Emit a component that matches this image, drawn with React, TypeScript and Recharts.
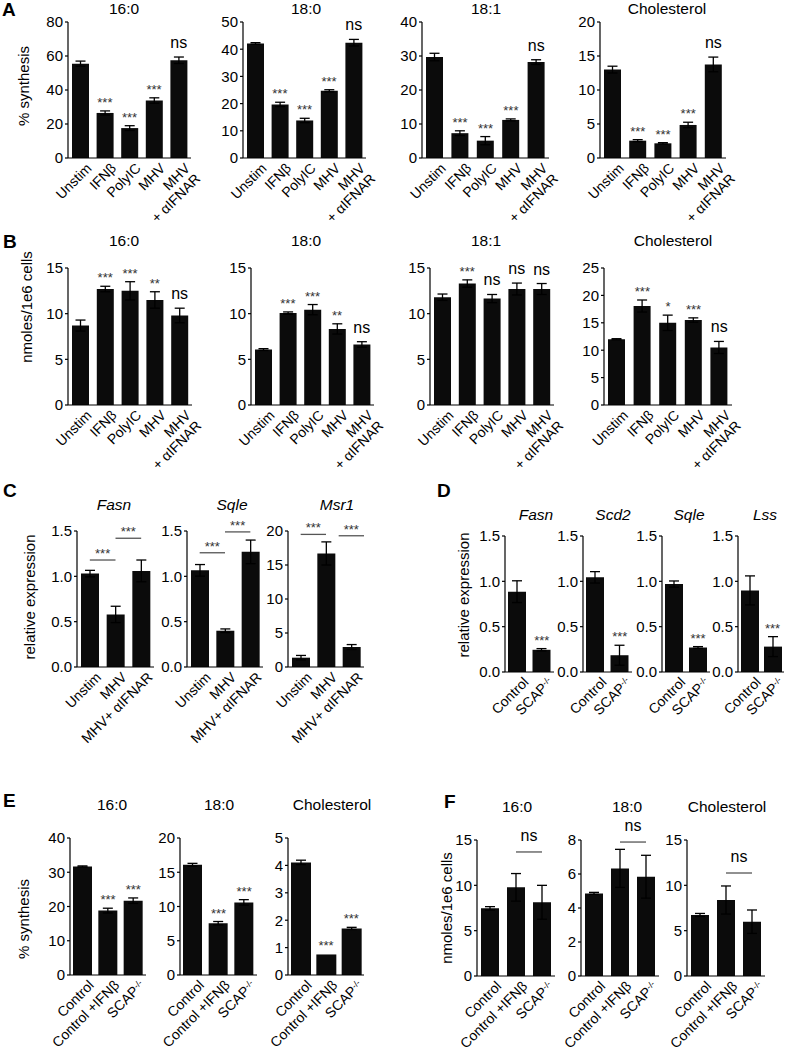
import React from 'react';
import { BarChart, Bar, XAxis, YAxis, ErrorBar, ReferenceDot, ReferenceLine } from 'recharts';

const FONT = '"Liberation Sans", Arial, Helvetica, sans-serif';

// ---------- categories ----------
const CATS_AB = ['Unstim', 'IFNβ', 'PolyIC', 'MHV', 'MHV\n+ αIFNAR'];
const CATS_C = ['Unstim', 'MHV', 'MHV+ αIFNAR'];
const CATS_D = ['Control', 'SCAP-/-'];
const CATS_EF = ['Control', 'Control +IFNβ', 'SCAP-/-'];

// ---------- titles ----------
const TITLES_A = ['16:0', '18:0', '18:1', 'Cholesterol'];
const TITLES_C = ['Fasn', 'Sqle', 'Msr1'];
const TITLES_D = ['Fasn', 'Scd2', 'Sqle', 'Lss'];
const TITLES_E = ['16:0', '18:0', 'Cholesterol'];

// ---------- panel A: % synthesis ----------
const A_160_VALS = [55.5, 26.5, 17.6, 33.8, 57.5];
const A_160_ERRS = [1.5, 1.2, 1.4, 1.6, 1.9];
const A_180_VALS = [42.1, 19.7, 13.8, 24.7, 42.4];
const A_180_ERRS = [0.3, 0.8, 0.8, 0.4, 1.2];
const A_181_VALS = [29.7, 7.3, 5.1, 11.2, 28.2];
const A_181_ERRS = [1.1, 0.7, 1.2, 0.3, 0.7];
const A_CHOL_VALS = [13.0, 2.55, 2.16, 4.86, 13.76];
const A_CHOL_ERRS = [0.5, 0.15, 0.1, 0.4, 1.08];
const SIG_A = ['', '***', '***', '***', 'ns'];

// ---------- panel B: nmoles/1e6 cells ----------
const B_160_VALS = [8.7, 12.7, 12.5, 11.5, 9.8];
const B_160_ERRS = [0.6, 0.3, 1.0, 0.9, 0.8];
const B_180_VALS = [6.07, 10.07, 10.44, 8.33, 6.63];
const B_180_ERRS = [0.1, 0.12, 0.56, 0.56, 0.3];
const B_181_VALS = [11.8, 13.3, 11.65, 12.7, 12.7];
const B_181_ERRS = [0.35, 0.4, 0.45, 0.65, 0.6];
const B_CHOL_VALS = [12.0, 18.06, 15.0, 15.5, 10.5];
const B_CHOL_ERRS = [0.1, 1.1, 1.4, 0.4, 1.1];
const SIG_B12 = ['', '***', '***', '**', 'ns'];
const SIG_B3 = ['', '***', 'ns', 'ns', 'ns'];
const SIG_B4 = ['', '***', '*', '***', 'ns'];

// ---------- panel C: relative expression ----------
const C_FASN_VALS = [1.03, 0.58, 1.06];
const C_FASN_ERRS = [0.036, 0.09, 0.12];
const C_SQLE_VALS = [1.066, 0.4, 1.27];
const C_SQLE_ERRS = [0.064, 0.02, 0.13];
const C_MSR1_VALS = [1.37, 16.7, 2.94];
const C_MSR1_ERRS = [0.33, 1.7, 0.36];
const C_FASN_BRACKETS = [
  { from: 'Unstim', to: 'MHV', y: 1.18, text: '***' },
  { from: 'MHV', to: 'MHV+ αIFNAR', y: 1.42, text: '***' },
];
const C_SQLE_BRACKETS = [
  { from: 'Unstim', to: 'MHV', y: 1.26, text: '***' },
  { from: 'MHV', to: 'MHV+ αIFNAR', y: 1.49, text: '***' },
];
const C_MSR1_BRACKETS = [
  { from: 'Unstim', to: 'MHV', y: 19.5, text: '***' },
  { from: 'MHV', to: 'MHV+ αIFNAR', y: 19.3, text: '***' },
];

// ---------- panel D: relative expression ----------
const D_FASN_VALS = [0.886, 0.245];
const D_FASN_ERRS = [0.12, 0.013];
const D_SCD2_VALS = [1.044, 0.185];
const D_SCD2_ERRS = [0.063, 0.11];
const D_SQLE_VALS = [0.97, 0.27];
const D_SQLE_ERRS = [0.034, 0.01];
const D_LSS_VALS = [0.9, 0.28];
const D_LSS_ERRS = [0.16, 0.11];
const SIG_D = ['', '***'];

// ---------- panel E: % synthesis ----------
const E_160_VALS = [31.7, 18.8, 21.7];
const E_160_ERRS = [0.15, 0.7, 0.8];
const E_180_VALS = [16.1, 7.56, 10.6];
const E_180_ERRS = [0.2, 0.25, 0.4];
const E_CHOL_VALS = [4.11, 0.75, 1.7];
const E_CHOL_ERRS = [0.08, 0.0, 0.04];
const SIG_E = ['', '***', '***'];

// ---------- panel F: nmoles/1e6 cells ----------
const F_160_VALS = [7.46, 9.78, 8.13];
const F_160_ERRS = [0.19, 1.52, 1.87];
const F_180_VALS = [4.86, 6.33, 5.84];
const F_180_ERRS = [0.06, 1.12, 1.26];
const F_CHOL_VALS = [6.73, 8.38, 5.99];
const F_CHOL_ERRS = [0.17, 1.55, 1.29];
const F_160_BRACKETS = [{ from: 'Control +IFNβ', to: 'SCAP-/-', y: 13.68, text: 'ns' }];
const F_180_BRACKETS = [{ from: 'Control +IFNβ', to: 'SCAP-/-', y: 7.88, text: 'ns' }];
const F_CHOL_BRACKETS = [{ from: 'Control +IFNβ', to: 'SCAP-/-', y: 11.36, text: 'ns' }];

// ---------- tick sets ----------
const TICKS_80 = [0, 20, 40, 60, 80];
const TICKS_50 = [0, 10, 20, 30, 40, 50];
const TICKS_40 = [0, 10, 20, 30, 40];
const TICKS_20_5 = [0, 5, 10, 15, 20];
const TICKS_15 = [0, 5, 10, 15];
const TICKS_25 = [0, 5, 10, 15, 20, 25];
const TICKS_1_5 = [0, 0.5, 1.0, 1.5];
const TICKS_5 = [0, 1, 2, 3, 4, 5];
const TICKS_8 = [0, 2, 4, 6, 8];

type Bracket = { from: string; to: string; y: number; text: string };

const YW = 44;
const MT = 34;
const MR = 14;
const XH = 110;

function supParts(s: string) {
  if (s.endsWith('-/-')) {
    return [
      <tspan key="a">{s.slice(0, -3)}</tspan>,
      <tspan key="b" dy="-0.45em" fontSize="0.62em">-/-</tspan>,
    ];
  }
  return s;
}

const XTick = (props: any) => {
  const { x, y, payload, fs } = props;
  const lines = String(payload.value).split('\n');
  return (
    <g transform={`translate(${x + 5},${y + 4})`}>
      <text transform="rotate(-45)" textAnchor="end" fontSize={fs} fontFamily={FONT} fill="#000">
        {lines.map((ln, i) => (
          <tspan key={i} x={0} dy={i === 0 ? '0.72em' : '1.05em'}>
            {supParts(ln)}
          </tspan>
        ))}
      </text>
    </g>
  );
};

const SigText = (props: any) => {
  const vb = props.viewBox || { x: 0, y: 0, width: 0, height: 0 };
  const cx = vb.x + (vb.width || 0) / 2;
  const cy = vb.y + (vb.height || 0) / 2;
  const t: string = props.text;
  const star = t.includes('*');
  const off = props.off !== undefined ? props.off : star ? 4 : 9;
  return (
    <text
      x={cx}
      y={cy - off}
      textAnchor="middle"
      fontSize={star ? 13 : 16}
      fill={star ? '#333' : '#000'}
      fontFamily={FONT}
    >
      {t}
    </text>
  );
};

type PanelProps = {
  x: number;
  top: number;
  w: number;
  h: number;
  cats: string[];
  vals: number[];
  errs: number[];
  sig?: string[];
  max: number;
  ticks: number[];
  dec?: number;
  barSize: number;
  brackets?: Bracket[];
  bracketPos?: ('start' | 'middle' | 'end')[];
  fs?: number;
  yfs?: number;
};

function Panel(p: PanelProps) {
  const fs = p.fs || 14;
  const yfs = p.yfs || 15;
  const data = p.cats.map((c, i) => ({ c, v: p.vals[i], e: p.errs[i] }));
  const width = YW + p.w + MR;
  const height = MT + p.h + XH;
  return (
    <div style={{ position: 'absolute', left: p.x - YW, top: p.top - MT, width, height }}>
      <BarChart
        width={width}
        height={height}
        data={data}
        margin={{ top: MT, right: MR, left: 0, bottom: 0 }}
        barSize={p.barSize}
      >
        <XAxis
          dataKey="c"
          type="category"
          interval={0}
          tickLine={false}
          tickSize={0}
          tickMargin={0}
          height={XH}
          axisLine={{ stroke: '#000', strokeWidth: 1.2 }}
          tick={<XTick fs={fs} />}
        />
        <YAxis
          type="number"
          domain={[0, p.max]}
          ticks={p.ticks}
          width={YW}
          interval={0}
          tickSize={3}
          tickMargin={2}
          axisLine={{ stroke: '#000', strokeWidth: 1.2 }}
          tickLine={{ stroke: '#000', strokeWidth: 1.2 }}
          tick={{ fontSize: yfs, fill: '#000', fontFamily: FONT }}
          tickFormatter={(v: number) => (p.dec ? v.toFixed(p.dec) : String(v))}
        />
        <Bar dataKey="v" fill="#0b0b0b" isAnimationActive={false}>
          <ErrorBar dataKey="e" width={5} stroke="#000" strokeWidth={1.3} direction="y" />
        </Bar>
        {p.sig &&
          p.sig.map((s, i) =>
            s ? (
              <ReferenceDot
                key={'s' + i}
                x={p.cats[i]}
                y={p.vals[i] + p.errs[i]}
                r={0}
                fill="none"
                stroke="none"
                label={<SigText text={s} />}
              />
            ) : null
          )}
        {p.brackets &&
          p.brackets.map((b, i) => (
            <ReferenceLine
              key={'b' + i}
              segment={[
                { x: b.from, y: b.y },
                { x: b.to, y: b.y },
              ]}
              position={p.bracketPos ? p.bracketPos[i] : 'middle'}
              stroke="#555"
              strokeWidth={1.3}
              label={<SigText text={b.text} off={b.text === 'ns' ? 11 : 2} />}
            />
          ))}
      </BarChart>
    </div>
  );
}

export default function App() {
  const rowA = 22, hA = 136;
  const rowB = 268, hB = 137;
  const rowC = 531, hC = 136;
  const rowD = 536, hD = 136;
  const rowE = 838, hE = 137;
  const rowF = 840, hF = 136;
  return (
    <div style={{ position: 'absolute', left: 0, top: 0, width: 785, height: 1050, background: '#fff', fontFamily: FONT }}>
      {/* A */}
      <Panel x={68} top={rowA} w={123} h={hA} cats={CATS_AB} vals={A_160_VALS} errs={A_160_ERRS} sig={SIG_A} max={80} ticks={TICKS_80} barSize={17} />
      <Panel x={243} top={rowA} w={123} h={hA} cats={CATS_AB} vals={A_180_VALS} errs={A_180_ERRS} sig={SIG_A} max={50} ticks={TICKS_50} barSize={17} />
      <Panel x={422} top={rowA} w={127} h={hA} cats={CATS_AB} vals={A_181_VALS} errs={A_181_ERRS} sig={SIG_A} max={40} ticks={TICKS_40} barSize={17} />
      <Panel x={600} top={rowA} w={126} h={hA} cats={CATS_AB} vals={A_CHOL_VALS} errs={A_CHOL_ERRS} sig={SIG_A} max={20} ticks={TICKS_20_5} barSize={17} />
      {/* B */}
      <Panel x={68} top={rowB} w={124} h={hB} cats={CATS_AB} vals={B_160_VALS} errs={B_160_ERRS} sig={SIG_B12} max={15} ticks={TICKS_15} barSize={17} />
      <Panel x={251} top={rowB} w={123} h={hB} cats={CATS_AB} vals={B_180_VALS} errs={B_180_ERRS} sig={SIG_B12} max={15} ticks={TICKS_15} barSize={17} />
      <Panel x={430} top={rowB} w={124} h={hB} cats={CATS_AB} vals={B_181_VALS} errs={B_181_ERRS} sig={SIG_B3} max={15} ticks={TICKS_15} barSize={17} />
      <Panel x={604} top={rowB} w={128} h={hB} cats={CATS_AB} vals={B_CHOL_VALS} errs={B_CHOL_ERRS} sig={SIG_B4} max={25} ticks={TICKS_25} barSize={17} />
      {/* C */}
      <Panel x={77} top={rowC} w={77} h={hC} cats={CATS_C} vals={C_FASN_VALS} errs={C_FASN_ERRS} max={1.5} ticks={TICKS_1_5} dec={1} barSize={18} brackets={C_FASN_BRACKETS} />
      <Panel x={187} top={rowC} w={76} h={hC} cats={CATS_C} vals={C_SQLE_VALS} errs={C_SQLE_ERRS} max={1.5} ticks={TICKS_1_5} dec={1} barSize={18} brackets={C_SQLE_BRACKETS} />
      <Panel x={288} top={rowC} w={76} h={hC} cats={CATS_C} vals={C_MSR1_VALS} errs={C_MSR1_ERRS} max={20} ticks={TICKS_20_5} barSize={18} brackets={C_MSR1_BRACKETS} bracketPos={['middle', 'end']} />
      {/* D */}
      <Panel x={505} top={rowD} w={49} h={hD} cats={CATS_D} vals={D_FASN_VALS} errs={D_FASN_ERRS} sig={SIG_D} max={1.5} ticks={TICKS_1_5} dec={1} barSize={18} />
      <Panel x={583} top={rowD} w={49} h={hD} cats={CATS_D} vals={D_SCD2_VALS} errs={D_SCD2_ERRS} sig={SIG_D} max={1.5} ticks={TICKS_1_5} dec={1} barSize={18} />
      <Panel x={662} top={rowD} w={48} h={hD} cats={CATS_D} vals={D_SQLE_VALS} errs={D_SQLE_ERRS} sig={SIG_D} max={1.5} ticks={TICKS_1_5} dec={1} barSize={18} />
      <Panel x={738} top={rowD} w={46} h={hD} cats={CATS_D} vals={D_LSS_VALS} errs={D_LSS_ERRS} sig={SIG_D} max={1.5} ticks={TICKS_1_5} dec={1} barSize={18} />
      {/* E */}
      <Panel x={70} top={rowE} w={76} h={hE} cats={CATS_EF} vals={E_160_VALS} errs={E_160_ERRS} sig={SIG_E} max={40} ticks={TICKS_40} barSize={19} />
      <Panel x={180} top={rowE} w={77} h={hE} cats={CATS_EF} vals={E_180_VALS} errs={E_180_ERRS} sig={SIG_E} max={20} ticks={TICKS_20_5} barSize={19} />
      <Panel x={288} top={rowE} w={76} h={hE} cats={CATS_EF} vals={E_CHOL_VALS} errs={E_CHOL_ERRS} sig={SIG_E} max={5} ticks={TICKS_5} barSize={20} />
      {/* F */}
      <Panel x={477} top={rowF} w={78} h={hF} cats={CATS_EF} vals={F_160_VALS} errs={F_160_ERRS} max={15} ticks={TICKS_15} barSize={18} brackets={F_160_BRACKETS} />
      <Panel x={581} top={rowF} w={78} h={hF} cats={CATS_EF} vals={F_180_VALS} errs={F_180_ERRS} max={8} ticks={TICKS_8} barSize={18} brackets={F_180_BRACKETS} />
      <Panel x={687} top={rowF} w={78} h={hF} cats={CATS_EF} vals={F_CHOL_VALS} errs={F_CHOL_ERRS} max={15} ticks={TICKS_15} barSize={18} brackets={F_CHOL_BRACKETS} />

      <svg width={785} height={1050} style={{ position: 'absolute', left: 0, top: 0, pointerEvents: 'none' }} fontFamily={FONT}>
        {/* panel letters */}
        <text x={2} y={16} fontSize={19} fontWeight="bold">A</text>
        <text x={3} y={248} fontSize={19} fontWeight="bold">B</text>
        <text x={3} y={497} fontSize={19} fontWeight="bold">C</text>
        <text x={437} y={497} fontSize={19} fontWeight="bold">D</text>
        <text x={3} y={807} fontSize={19} fontWeight="bold">E</text>
        <text x={444} y={808} fontSize={19} fontWeight="bold">F</text>

        {/* titles A */}
        <text x={124} y={14} fontSize={15.5} textAnchor="middle">{TITLES_A[0]}</text>
        <text x={306} y={14} fontSize={15.5} textAnchor="middle">{TITLES_A[1]}</text>
        <text x={486} y={14} fontSize={15.5} textAnchor="middle">{TITLES_A[2]}</text>
        <text x={667} y={14} fontSize={15.5} textAnchor="middle">{TITLES_A[3]}</text>
        {/* titles B */}
        <text x={124} y={246} fontSize={15.5} textAnchor="middle">{TITLES_A[0]}</text>
        <text x={306} y={246} fontSize={15.5} textAnchor="middle">{TITLES_A[1]}</text>
        <text x={486} y={246} fontSize={15.5} textAnchor="middle">{TITLES_A[2]}</text>
        <text x={673} y={246} fontSize={15.5} textAnchor="middle">{TITLES_A[3]}</text>
        {/* titles C */}
        <text x={114} y={510} fontSize={15.5} fontStyle="italic" textAnchor="middle">{TITLES_C[0]}</text>
        <text x={232} y={510} fontSize={15.5} fontStyle="italic" textAnchor="middle">{TITLES_C[1]}</text>
        <text x={337} y={510} fontSize={15.5} fontStyle="italic" textAnchor="middle">{TITLES_C[2]}</text>
        {/* titles D */}
        <text x={536} y={520} fontSize={15.5} fontStyle="italic" textAnchor="middle">{TITLES_D[0]}</text>
        <text x={613} y={520} fontSize={15.5} fontStyle="italic" textAnchor="middle">{TITLES_D[1]}</text>
        <text x={689} y={520} fontSize={15.5} fontStyle="italic" textAnchor="middle">{TITLES_D[2]}</text>
        <text x={765} y={520} fontSize={15.5} fontStyle="italic" textAnchor="middle">{TITLES_D[3]}</text>
        {/* titles E */}
        <text x={112} y={810} fontSize={15.5} textAnchor="middle">{TITLES_E[0]}</text>
        <text x={219} y={810} fontSize={15.5} textAnchor="middle">{TITLES_E[1]}</text>
        <text x={332} y={810} fontSize={15.5} textAnchor="middle">{TITLES_E[2]}</text>
        {/* titles F */}
        <text x={517} y={812} fontSize={15.5} textAnchor="middle">{TITLES_E[0]}</text>
        <text x={627} y={812} fontSize={15.5} textAnchor="middle">{TITLES_E[1]}</text>
        <text x={727} y={812} fontSize={15.5} textAnchor="middle">{TITLES_E[2]}</text>

        {/* y axis labels */}
        <text transform="translate(29,86) rotate(-90)" fontSize={15} textAnchor="middle">% synthesis</text>
        <text transform="translate(32,307) rotate(-90)" fontSize={15} textAnchor="middle">nmoles/1e6 cells</text>
        <text transform="translate(35,597) rotate(-90)" fontSize={15} textAnchor="middle">relative expression</text>
        <text transform="translate(469,595) rotate(-90)" fontSize={15} textAnchor="middle">relative expression</text>
        <text transform="translate(29,919) rotate(-90)" fontSize={15} textAnchor="middle">% synthesis</text>
        <text transform="translate(452,908) rotate(-90)" fontSize={15} textAnchor="middle">nmoles/1e6 cells</text>
      </svg>
    </div>
  );
}
